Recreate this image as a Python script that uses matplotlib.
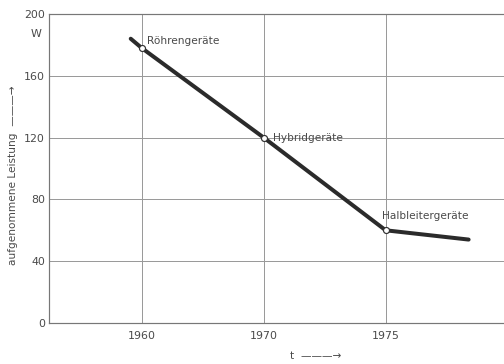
import matplotlib
matplotlib.use('Agg')
import matplotlib.pyplot as plt

plt.rcParams['font.family'] = ['DejaVu Sans']

# tick labels and categorical positions (the x axis is schematic, not linear in years)
years = ['1960', '1970', '1975']
year_pos = [0, 1, 2]

# power curve
line_x = [-0.09, 0, 1, 2, 2.68]
line_y = [184, 178, 120, 60, 54]

# labelled points
point_x = [0, 1, 2]
point_y = [178, 120, 60]
point_names = ['Röhrengeräte', 'Hybridgeräte', 'Halbleitergeräte']
label_offsets = [(5, 7), (9, 0), (-4, 14)]

yticks = [0, 40, 80, 120, 160, 200]

txt = '#4a4a4a'
grid_c = '#9a9a9a'

fig = plt.figure(figsize=(7, 364 / 72), dpi=72)
ax = fig.add_axes([49 / 504, 1 - 323 / 364, 455 / 504, 309 / 364])

ax.plot(line_x, line_y, color='#2b2b2b', lw=4, solid_capstyle='round', zorder=3)
ax.plot(point_x, point_y, 'o', ms=6, mfc='white', mec='#333333', mew=1.2, zorder=4)

for x, y, name, off in zip(point_x, point_y, point_names, label_offsets):
    ax.annotate(name, (x, y), xytext=off, textcoords='offset points',
                ha='left', va='center', fontsize=10.5, color=txt, zorder=5)

ax.set_xlim(-0.76, 2.97)
ax.set_ylim(0, 200)
ax.set_xticks(year_pos)
ax.set_xticklabels(years)
ax.set_yticks(yticks)
ax.tick_params(length=0, labelsize=11, colors=txt)
ax.tick_params(axis='x', pad=8)
ax.tick_params(axis='y', pad=4)

ax.grid(True, color=grid_c, lw=1)
ax.set_axisbelow(True)
for s in ['left', 'bottom', 'top']:
    ax.spines[s].set_color('#777777')
    ax.spines[s].set_linewidth(1.2)
ax.spines['right'].set_visible(False)

fig.text(36 / 504, 1 - 34 / 364, 'W', ha='center', va='center', fontsize=11, color=txt)
fig.text(13 / 504, 1 - 175 / 364, 'aufgenommene Leistung  ———→', rotation=90,
         ha='center', va='center', fontsize=10.5, color=txt)
fig.text(316 / 504, 1 - 356 / 364, 't  ———→', ha='center', va='center',
         fontsize=10.5, color=txt)

fig.savefig('out.png', dpi=72, facecolor='white')
